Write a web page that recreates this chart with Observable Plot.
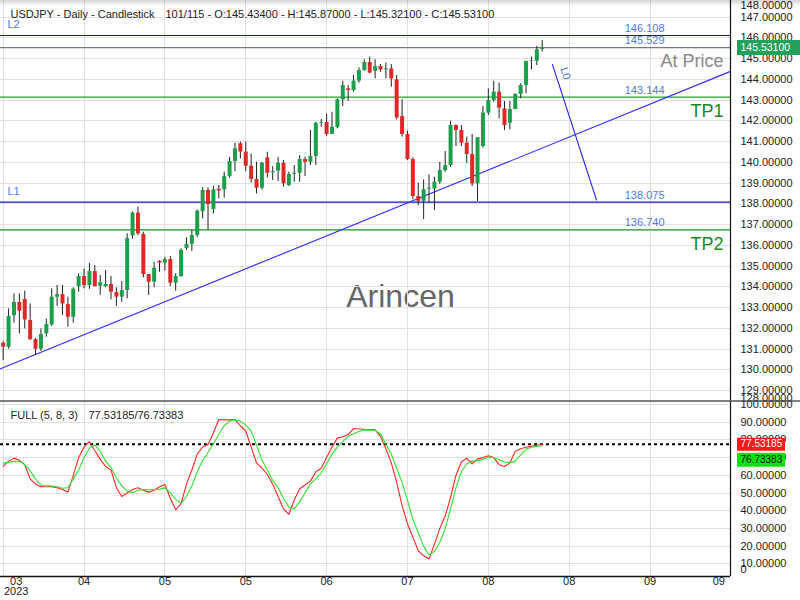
<!DOCTYPE html>
<html><head><meta charset="utf-8">
<script src="https://cdn.jsdelivr.net/npm/d3@7"></script>
<script src="https://cdn.jsdelivr.net/npm/@observablehq/plot@0.6"></script>
<style>
html,body{margin:0;padding:0;background:#fff;}
#wrap{position:relative;width:800px;height:600px;overflow:hidden;background:#fff;font-family:"Liberation Sans",Arial,sans-serif;}
#main,#stoch{position:absolute;left:0;}
#main{top:0;}
#stoch{top:401px;}
#shade{position:absolute;left:0;top:0;width:800px;height:6px;background:linear-gradient(rgba(0,0,0,0.17),rgba(0,0,0,0));pointer-events:none;}
</style></head><body>
<div id="wrap"><div id="main"></div><div id="stoch"></div><div id="shade"></div></div>
<script>
// ---- candle data (daily USDJPY) ----
const opens = [131.28,131.08,132.60,133.24,133.38,132.37,131.45,130.99,131.73,132.16,133.50,133.62,133.14,132.53,134.01,134.49,134.06,134.73,134.03,134.01,134.11,133.72,133.50,133.82,136.45,137.55,136.52,134.59,134.22,135.22,135.14,135.31,134.17,134.49,135.84,136.04,136.47,137.62,138.64,137.72,138.70,138.67,139.31,140.04,140.89,140.49,139.81,139.17,138.75,140.21,139.50,139.57,139.95,138.88,139.42,139.47,140.13,140.00,140.28,141.88,141.92,141.34,141.66,143.01,143.54,143.46,143.91,144.42,144.81,144.39,144.61,144.45,144.50,143.97,142.20,141.34,140.13,138.35,138.12,138.70,138.71,139.04,139.60,139.84,141.77,141.53,140.92,140.37,138.96,140.76,142.37,142.98,143.38,142.57,141.88,142.54,143.27,143.70,144.87,144.87,145.434];
const highs = [131.35,132.93,133.66,133.66,133.79,133.17,131.50,131.97,132.45,133.90,134.06,134.06,133.50,133.95,134.62,134.86,135.13,135.02,134.54,134.78,134.49,133.95,134.25,136.55,137.61,137.84,136.63,134.60,135.18,135.26,135.42,135.46,134.62,135.83,136.36,136.71,137.70,138.77,138.77,138.83,138.88,139.52,140.24,140.92,140.97,140.97,140.40,140.00,140.00,140.48,139.79,140.24,140.08,139.52,139.84,140.32,140.24,141.53,141.93,142.06,142.33,142.41,143.06,143.91,143.70,144.18,144.55,144.94,145.07,144.94,144.71,144.78,144.71,144.18,143.01,141.50,140.21,138.99,139.15,139.39,139.28,140.00,140.52,141.98,141.80,141.77,141.21,141.34,141.18,142.69,143.54,143.90,143.81,142.93,142.93,143.30,143.78,144.86,145.07,145.58,145.87];
const lows = [130.44,131.00,132.24,131.73,131.97,131.41,130.68,130.89,131.57,132.08,133.05,132.61,132.05,132.24,133.74,133.90,133.88,133.98,133.59,133.95,133.37,133.05,133.25,133.42,136.29,136.47,134.43,133.58,133.95,134.70,134.75,134.01,133.78,134.46,135.75,135.71,136.36,137.27,136.74,137.51,138.23,138.27,139.23,139.55,140.16,139.55,138.99,138.48,138.67,139.25,139.12,139.07,138.80,138.83,139.04,139.04,139.31,139.84,139.84,141.69,141.24,141.33,141.61,142.69,142.94,143.38,143.81,144.39,144.26,144.02,144.34,144.02,143.62,142.04,141.21,140.08,138.19,137.91,137.24,138.03,137.67,138.93,139.52,139.76,140.76,140.76,139.95,138.83,138.11,140.69,142.25,142.90,142.09,141.53,141.56,142.54,143.06,143.30,144.45,144.66,145.321];
const closes = [131.09,132.56,133.24,132.82,132.40,131.45,130.99,131.70,132.18,133.50,133.62,133.17,132.53,133.88,134.49,134.06,134.73,134.01,134.20,134.11,133.74,133.50,133.82,136.32,137.55,136.55,134.59,134.22,134.89,135.14,135.31,134.17,134.49,135.75,136.04,136.47,137.64,138.64,137.96,138.67,138.62,139.31,140.04,140.65,140.49,139.81,139.17,138.75,139.95,139.47,139.55,139.95,138.96,139.41,139.47,140.13,140.00,140.28,141.88,141.92,141.34,141.69,143.01,143.70,143.46,143.91,144.42,144.81,144.30,144.61,144.45,144.50,144.02,142.14,141.34,140.13,138.35,138.12,138.68,138.75,139.04,139.60,139.84,141.77,141.53,140.92,140.37,138.96,141.18,142.37,142.98,143.38,142.61,141.77,142.54,143.27,143.70,144.86,144.90,145.42,145.531];

// ---- Full stochastic (5, 8, 3) ----
const stochK = [65,68,69.7,68.5,66,58,55,53.5,53.5,53.5,53,52,50.5,60,70,76,79,74,69,65,63,53,48,50,52,53,51.5,50.5,51.5,53.5,54.8,47,40.5,44,55,63,72,76,77.4,84,91.5,91.3,91.3,91.5,88,85,76,67,64,60.5,55,48,41,38,46,52.4,54.5,56.7,62,64,70,76,81,81.8,83,86.4,86.2,86,85.9,85.7,82,75,67,56,43,32.6,25,17.5,14.5,12.8,21,30,37,47.6,60,67.5,69.7,66.5,69.3,70,71,70,66,65,67,73.6,75,75.8,76.5,77,77.53185];
const stochD = [66.9,67.3,67.8,68,66,62.5,58,54.5,54,54,53.5,52.7,53,58,63,70,75.3,77.2,73.5,68,64.5,58.5,54,51,50.2,51.5,52,51.8,51.8,52.2,52.9,50,46.5,44,48,54,62,68.4,73,77.8,83,88,90.6,91.4,90.5,88.5,85,77,68.7,63,57,53,47,42,41,45,50,55.2,58,61.4,66.5,72,75.9,79,82,83.5,84.7,85.6,85.5,85.3,83.4,77.5,72,64,56,46,35,27.5,20,15,17,22,30,41,53,62,66.5,68,68.3,69,70.3,70,68.8,67.5,67,68,71.5,74.8,75.9,76.3,76.73383];

// ---- axis ticks ----
const xTickIdx = [0,15,30,45,60,75,90,105,120,135];
const xTickLabels = ["03","04","05","05","06","07","08","08","09","09"];
const yearLabel = "2023";
const priceTicks = [129,130,131,132,133,134,135,136,137,138,139,140,141,142,143,144,145,146,147];
const priceEdgeTicks = [148,128];
const stochTicks = [10,20,30,40,50,60,70,80,90,100];

// ---- drawn objects ----
const levelPrices = [146.108, 145.529, 143.144, 138.075, 136.740];
const levelColors = ["#1414cc", "#7a7a7a", "#24a324", "#1414cc", "#1f8f1f"];
const leftNames = ["L2", "", "", "L1", ""];
const rightNames = ["", "At Price", "TP1", "", "TP2"];
const rightNameColors = ["", "#8a8a8a", "#1a8a1a", "", "#1a8a1a"];
const trendIdx = [-0.5, 134.93];
const trendPrice = [130.05, 144.38];
const l0Idx = [101.9, 110.07];
const l0Price = [144.71, 138.18];
const l0Label = "L0";
const titleText = "USDJPY - Daily - Candlestick";
const headerText = "101/115 - O:145.43400 - H:145.87000 - L:145.32100 - C:145.53100";
const stochName = "FULL (5, 8, 3)";
const watermark = "Arincen";

// ---- build ----
const N = opens.length;
const candles = d3.range(N).map(i => ({i, o: opens[i], h: highs[i], l: lows[i], c: closes[i]}));
const stochRows = d3.range(N).map(i => ({i, k: stochK[i], d: stochD[i]}));
const levels = levelPrices.map((p, j) => ({p, color: levelColors[j], left: leftNames[j], right: rightNames[j], rc: rightNameColors[j]}));
const trend = trendIdx.map((i, j) => ({i, p: trendPrice[j]}));
const l0 = l0Idx.map((i, j) => ({i, p: l0Price[j]}));
const last = candles[N - 1];
const lastK = stochK[N - 1], lastD = stochD[N - 1];

const X_DOMAIN = [-0.5, 134.93];
const PLOT_W = 730;
const xs = d3.scaleLinear().domain(X_DOMAIN).range([0, PLOT_W]);
const FONT = "Liberation Sans, Arial, sans-serif";
const GRID = "#e2e2e2";
const LBL = "#5279ee";
const UP = "#1c9f4c", DOWN = "#e02828";
const CRISP = "crispEdges";

const main = Plot.plot({
  width: 800, height: 401,
  marginLeft: 0, marginRight: 70, marginTop: 0, marginBottom: 0,
  style: {background: "transparent", overflow: "visible", fontFamily: FONT, fontSize: "11px", color: "#222"},
  x: {type: "linear", domain: X_DOMAIN, axis: null},
  y: {type: "linear", domain: [128.47, 147.796], axis: null},
  marks: [
    Plot.text([watermark], {frameAnchor: "middle", dx: 35, dy: 96, text: d => d, fontSize: 32, fill: "#666"}),
    Plot.ruleX(xTickIdx, {x: d => d, stroke: GRID, shapeRendering: CRISP}),
    Plot.ruleY(priceTicks, {y: d => d, stroke: GRID, shapeRendering: CRISP}),
    Plot.text([titleText], {frameAnchor: "top-left", dx: 10, dy: 14, lineAnchor: "middle", textAnchor: "start", text: d => d, fontSize: 11, fill: "#222"}),
    Plot.text([headerText], {frameAnchor: "top-left", dx: 165, dy: 14, lineAnchor: "middle", textAnchor: "start", text: d => d, fontSize: 11, fill: "#222"}),
    // levels (one mark each so that each keeps its literal colour)
    ...levels.map(l => Plot.ruleY([l], {y: "p", stroke: l.color, strokeWidth: 1.2})),
    Plot.text(levels, {y: "p", frameAnchor: "right", dx: -66, dy: -7, text: d => d.p.toFixed(3), fill: LBL, fontSize: 11}),
    Plot.text(levels.filter(d => d.left), {y: "p", frameAnchor: "left", dx: 7, dy: -11, textAnchor: "start", text: "left", fill: LBL, fontSize: 11}),
    ...levels.filter(d => d.right).map(l => Plot.text([l], {y: "p", frameAnchor: "right", dx: -7, dy: 14, textAnchor: "end", text: "right", fill: l.rc, fontSize: 18})),
    // trend lines
    Plot.line(trend, {x: "i", y: "p", stroke: "#2f2fff", strokeWidth: 1.1}),
    Plot.line(l0, {x: "i", y: "p", stroke: "#2c2ce6", strokeWidth: 1.1}),
    Plot.text([l0Label], {x: () => l0Idx[0], y: () => l0Price[0], dx: 13, dy: 9, rotate: 72, text: d => d, fill: LBL, fontSize: 11}),
    // candles
    Plot.ruleX(candles, {x: "i", y1: "l", y2: "h", stroke: "#222", strokeWidth: 1}),
    Plot.ruleX(candles.filter(d => d.c >= d.o), {x: "i", y1: "o", y2: "c", stroke: UP, strokeWidth: 4}),
    Plot.ruleX(candles.filter(d => d.c < d.o), {x: "i", y1: "o", y2: "c", stroke: DOWN, strokeWidth: 4}),
    // right price axis
    Plot.text(priceTicks, {y: d => d, frameAnchor: "right", dx: 10, textAnchor: "start", text: d => d.toFixed(5), fill: "#222", fontSize: 11}),
    Plot.text([priceEdgeTicks[0]], {y: d => d, frameAnchor: "right", dx: 10, dy: 9, textAnchor: "start", text: d => d.toFixed(5), fill: "#222", fontSize: 11}),
    Plot.text([priceEdgeTicks[1]], {y: d => d, frameAnchor: "right", dx: 10, dy: -13, textAnchor: "start", text: d => d.toFixed(5), fill: "#222", fontSize: 11}),
    Plot.ruleX([X_DOMAIN[1]], {x: d => d, stroke: "#111", strokeWidth: 1.2}),
    // current price box
    Plot.ruleY([last], {y: "c", x1: () => xs.invert(737), x2: () => xs.invert(800), stroke: "#23a05a", strokeWidth: 15}),
    Plot.text([last], {y: "c", frameAnchor: "right", dx: 10, textAnchor: "start", text: d => d.c.toFixed(5), fill: "white", fontSize: 10.5})
  ]
});
document.getElementById("main").appendChild(main);

const stoch = Plot.plot({
  width: 800, height: 199,
  marginLeft: 0, marginRight: 70, marginTop: 0, marginBottom: 24,
  style: {background: "transparent", overflow: "visible", fontFamily: FONT, fontSize: "11px", color: "#222"},
  x: {type: "linear", domain: X_DOMAIN, axis: null},
  y: {type: "linear", domain: [0, 100], range: [180, 3], axis: null},
  marks: [
    Plot.ruleX(xTickIdx, {x: d => d, stroke: GRID, shapeRendering: CRISP}),
    Plot.ruleY(stochTicks, {y: d => d, stroke: GRID, shapeRendering: CRISP}),
    Plot.ruleY([lastK], {y: d => d, stroke: "#000", strokeWidth: 2, strokeDasharray: "3,3"}),
    Plot.line(stochRows, {x: "i", y: "k", stroke: "#ff2626", strokeWidth: 1.1}),
    Plot.line(stochRows, {x: "i", y: "d", stroke: "#2fe02f", strokeWidth: 1.1}),
    Plot.text([stochName], {frameAnchor: "top-left", dx: 10, dy: 14, lineAnchor: "middle", textAnchor: "start", text: d => d, fontSize: 11, fill: "#222"}),
    Plot.text([lastK.toFixed(5) + "/" + lastD.toFixed(5)], {frameAnchor: "top-left", dx: 88, dy: 14, lineAnchor: "middle", textAnchor: "start", text: d => d, fontSize: 11, fill: "#222"}),
    // right axis
    Plot.text(stochTicks, {y: d => d, frameAnchor: "right", dx: 10, textAnchor: "start", text: d => d.toFixed(5), fill: "#222", fontSize: 11}),
    Plot.text([0], {y: d => d, frameAnchor: "right", dx: 10, dy: -12, textAnchor: "start", text: d => String(d), fill: "#222", fontSize: 11}),
    Plot.ruleY([lastK], {y: d => d, x1: () => xs.invert(737), x2: () => xs.invert(785), stroke: "#ff1a1a", strokeWidth: 13}),
    Plot.text([lastK], {y: d => d, frameAnchor: "right", dx: 10, textAnchor: "start", text: d => d.toFixed(5), fill: "white", fontSize: 10}),
    Plot.ruleY([lastD], {y: d => d, dy: 14, x1: () => xs.invert(737), x2: () => xs.invert(785), stroke: "#0ee00e", strokeWidth: 14}),
    Plot.text([lastD], {y: d => d, dy: 14, frameAnchor: "right", dx: 10, textAnchor: "start", text: d => d.toFixed(5), fill: "#111", fontSize: 10}),
    // x axis labels
    Plot.text(xTickIdx.slice(1, -1).map((v, k) => ({i: v, t: xTickLabels[k + 1]})), {x: "i", text: "t", frameAnchor: "bottom", dy: 8, fill: "#222", fontSize: 11}),
    Plot.text([{i: xTickIdx[0], t: xTickLabels[0]}], {x: "i", text: "t", frameAnchor: "bottom", dx: 13, dy: 8, fill: "#222", fontSize: 11}),
    Plot.text([{i: xTickIdx[0], t: yearLabel}], {x: "i", text: "t", frameAnchor: "bottom", dx: 13, dy: 18, fill: "#222", fontSize: 11}),
    Plot.text([{i: xTickIdx[xTickIdx.length - 1], t: xTickLabels[xTickLabels.length - 1]}], {x: "i", text: "t", frameAnchor: "bottom", dx: -12, dy: 8, fill: "#222", fontSize: 11}),
    Plot.ruleX([X_DOMAIN[1]], {x: d => d, stroke: "#111", strokeWidth: 1.2})
  ]
});
document.getElementById("stoch").appendChild(stoch);

// panel frame lines (layout only)
const ss = d3.select(stoch);
ss.append("line").attr("x1", 0).attr("x2", 800).attr("y1", 0).attr("y2", 0).attr("stroke", "#555").attr("stroke-width", 1.5);
ss.append("line").attr("x1", 0).attr("x2", PLOT_W).attr("y1", 175.5).attr("y2", 175.5).attr("stroke", "#111").attr("stroke-width", 1.5);
</script>
</body></html>
